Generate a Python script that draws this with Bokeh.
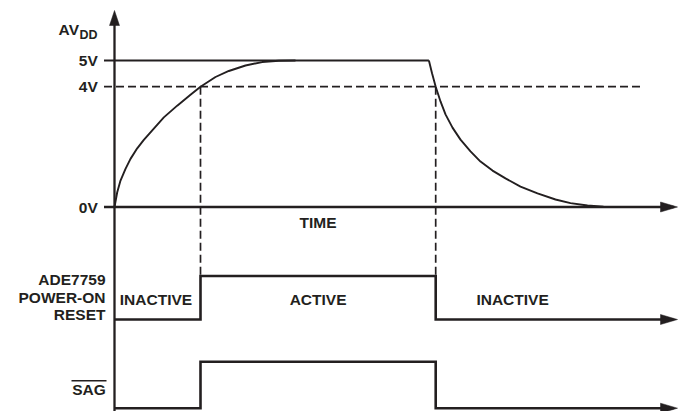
import numpy as np
from bokeh.plotting import figure
from bokeh.models import Range1d
from bokeh.core.properties import value
from bokeh.embed import file_html
from bokeh.resources import INLINE

# ---------------- data (time in arbitrary units, supply in volts) ----------------
VOLT_TICKS = [0, 4, 5]
VOLT_LABELS = ["0V", "4V", "5V"]

RISE_T = [0, 0.68, 1.5, 2.75, 4.0, 5.68, 7.33, 9.83, 12.33, 15.68, 19.0, 21.5,
          25.25, 28.58, 32.75, 36.93, 41.08, 45.25]
RISE_V = [0, 0.49, 0.88, 1.27, 1.60, 1.95, 2.23, 2.61, 2.98, 3.37, 3.73, 4.0,
          4.37, 4.60, 4.81, 4.94, 4.99, 5.0]

FALL_T = [78.6, 79.4, 80.3, 81.5, 82.75, 84.5, 86.5, 89.0, 91.5, 94.5, 97.75,
          101.5, 105.75, 110.25, 114.0, 118.25, 122.25, 126.5]
FALL_V = [5.0, 4.5, 4.0, 3.51, 3.08, 2.64, 2.24, 1.85, 1.51, 1.21, 0.95,
          0.68, 0.45, 0.25, 0.13, 0.05, 0.01, 0.0]

T_ON = 21.5        # AVDD crosses 4V rising
T_OFF = 80.3       # AVDD crosses 4V falling
T_END = 140.75     # end of time axis

SIGNAL_T = [0, T_ON, T_OFF, T_END]
RESET_STATE = [0, 1, 0, 0]
SAG_STATE = [0, 1, 0, 0]

STATE_LABELS = ["INACTIVE", "ACTIVE", "INACTIVE"]
RESET_LABEL = ["ADE7759", "POWER-ON", "RESET"]

# ---------------- layout (4 px per time unit, 1 px per y unit) ----------------
PX_X = 4.0
V_DISPLAY = [204.5, 324.8, 351.0]     # display height of 0V, 4V, 5V
RESET_LV = (92.0, 135.5)
SAG_LV = (3.3, 49.7)
Y_TOP = 401.0
INK = "#231f20"
FONT = value("Liberation Sans")

def vdisp(v):
    return np.interp(v, VOLT_TICKS, V_DISPLAY)

p = figure(width=678, height=411, x_range=Range1d(-28.5, 141.0),
           y_range=Range1d(0, 411), output_backend="svg", toolbar_location=None,
           x_axis_type=None, y_axis_type=None, min_border=0)
p.grid.visible = False
p.outline_line_color = None
p.background_fill_color = "white"
p.border_fill_color = "white"

tick_x0 = -10.5 / PX_X
y0 = V_DISPLAY[0]

# vertical axis
p.line([0, 0], [0, Y_TOP - 8], line_color=INK, line_width=2.3)
p.patch([0, -5 / PX_X, 5 / PX_X], [Y_TOP, Y_TOP - 15, Y_TOP - 15], color=INK, line_width=0.5)

# arrowheads on time axes
ah = 17 / PX_X
for lvl in (y0, RESET_LV[0], SAG_LV[0]):
    p.patch([T_END, T_END - ah, T_END - ah], [lvl, lvl + 5, lvl - 5], color=INK, line_width=0.5)

p.line([tick_x0, T_END - 4 / PX_X], [y0, y0], line_color=INK, line_width=2.3)

# 5V reference and 4V threshold
p.line([tick_x0, FALL_T[0]], [vdisp(5), vdisp(5)], line_color=INK, line_width=2.0)
p.line([tick_x0, 131.5], [vdisp(4), vdisp(4)], line_color=INK, line_width=1.7, line_dash="8 4")

# threshold crossing markers
for tx in (T_ON, T_OFF):
    p.line([tx, tx], [vdisp(4), RESET_LV[1]], line_color=INK, line_width=1.7, line_dash="8 4")

# AVDD curve
p.line(RISE_T, vdisp(RISE_V), line_color=INK, line_width=1.9, line_join="round")
p.line(FALL_T, vdisp(FALL_V), line_color=INK, line_width=1.9, line_join="round")

# digital signals
def lev(states, lv):
    return [lv[0] + s * (lv[1] - lv[0]) for s in states]

p.step(SIGNAL_T[:-1] + [T_END - 4 / PX_X], lev(RESET_STATE, RESET_LV), mode="after",
       line_color=INK, line_width=2.6, line_join="miter")
p.step(SIGNAL_T[:-1] + [T_END - 4 / PX_X], lev(SAG_STATE, SAG_LV), mode="after",
       line_color=INK, line_width=2.6, line_join="miter")

common = dict(text_font=FONT, text_font_style="bold", text_color=INK)

# AVDD label
p.text(x=[0], y=[381.7], text=["AV"], x_offset=-35.5, text_align="right",
       text_baseline="alphabetic", text_font_size="15.5px", **common)
p.text(x=[0], y=[377.0], text=["DD"], x_offset=-35.0, text_align="left",
       text_baseline="alphabetic", text_font_size="12.5px", **common)

# voltage tick labels
p.text(x=[0] * 3, y=list(vdisp(VOLT_TICKS)), text=VOLT_LABELS, x_offset=-16.7,
       text_align="right", text_baseline="middle", text_font_size="15.5px", **common)

# TIME label
p.text(x=[(T_ON + T_OFF) / 2], y=[y0 - 15.5], text=["TIME"], text_align="center",
       text_baseline="middle", text_font_size="15.5px", **common)

# reset label
p.text(x=[0] * 3, y=[131.7, 114.0, 96.7], text=RESET_LABEL, x_offset=-9,
       text_align="right", text_baseline="middle", text_font_size="15.5px", **common)

# state labels
sy = 112.4
p.text(x=[0], y=[sy], text=[STATE_LABELS[0]], x_offset=5.3, text_align="left",
       text_baseline="middle", text_font_size="15.5px", **common)
p.text(x=[(T_ON + T_OFF) / 2], y=[sy], text=[STATE_LABELS[1]], text_align="center",
       text_baseline="middle", text_font_size="15.5px", **common)
p.text(x=[T_OFF], y=[sy], text=[STATE_LABELS[2]], x_offset=40.7, text_align="left",
       text_baseline="middle", text_font_size="15.5px", **common)

# SAG label with overline
p.text(x=[0], y=[22.3], text=["SAG"], x_offset=-8.7, text_align="right",
       text_baseline="middle", text_font_size="15.5px", **common)
p.line([-43 / PX_X, -8 / PX_X], [30.7, 30.7], line_color=INK, line_width=1.4)

open("out.html", "w").write(file_html(p, INLINE))
